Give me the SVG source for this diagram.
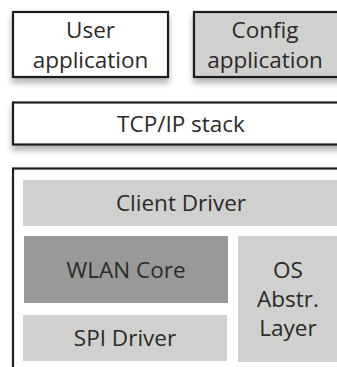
<svg xmlns="http://www.w3.org/2000/svg" width="337" height="367" viewBox="0 0 337 367">
<defs>
<filter id="sh" x="-10%" y="-20%" width="120%" height="160%">
<feGaussianBlur in="SourceAlpha" stdDeviation="3"/>
<feOffset dx="0" dy="5" result="b"/>
<feComponentTransfer><feFuncA type="linear" slope="0.3"/></feComponentTransfer>
<feMerge><feMergeNode/><feMergeNode in="SourceGraphic"/></feMerge>
</filter>
</defs>
<style>
.box{stroke:#1e1e1a;stroke-width:2.2}
.w{fill:#ffffff}
.g{fill:#d0d0ce}
.d{fill:#999a98}
text{font-family:"Open Sans","Noto Sans",sans-serif;font-size:22.5px;fill:#2a2a28;text-anchor:middle}
</style>
<rect width="337" height="367" fill="#ffffff"/>
<g id="user-application">
<rect class="box w" x="13" y="12" width="155" height="65" filter="url(#sh)"/>
<text x="90.5" y="37.5">User</text>
<text x="90.5" y="68">application</text>
</g>
<g id="config-application">
<rect class="box g" x="194" y="12" width="160" height="65" filter="url(#sh)"/>
<text x="265" y="37.5">Config</text>
<text x="265" y="68">application</text>
</g>
<g id="tcpip-stack">
<rect class="box w" x="13" y="102.5" width="345" height="42" filter="url(#sh)"/>
<text x="181" y="131.5">TCP/IP stack</text>
</g>
<g id="driver-container">
<rect class="box w" x="13" y="168.5" width="345" height="220"/>
</g>
<g id="client-driver">
<rect class="g" x="23" y="180" width="330" height="46"/>
<text x="181" y="211">Client Driver</text>
</g>
<g id="wlan-core">
<rect class="d" x="24" y="236" width="204" height="67"/>
<text x="126" y="277.5">WLAN Core</text>
</g>
<g id="spi-driver">
<rect class="g" x="23" y="315" width="204" height="46"/>
<text x="125" y="346">SPI Driver</text>
</g>
<g id="os-abstraction-layer">
<rect class="g" x="238" y="236" width="110" height="126"/>
<text x="288" y="278">OS</text>
<text x="288" y="307">Abstr.</text>
<text x="288" y="336">Layer</text>
</g>
<g id="connectors"></g>
</svg>
